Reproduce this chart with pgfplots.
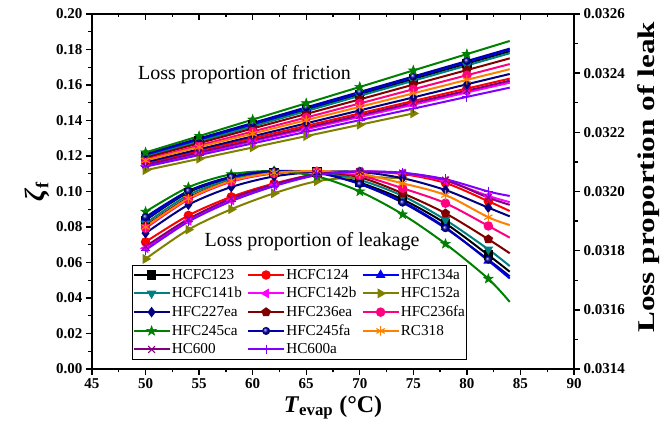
\documentclass[border=0pt]{standalone}
\usepackage{fontspec}
\setmainfont{Liberation Serif}
\usepackage{pgfplots}
\pgfplotsset{compat=1.18}
\usetikzlibrary{plotmarks}
\definecolor{cnavy}{RGB}{0,0,128}
\definecolor{cnavyb}{RGB}{0,0,170}
\definecolor{cteal}{RGB}{0,128,128}
\definecolor{colive}{RGB}{128,128,0}
\definecolor{cdred}{RGB}{128,0,0}
\definecolor{cpink}{RGB}{255,0,128}
\definecolor{cgreen}{RGB}{0,128,0}
\definecolor{corange}{RGB}{255,128,0}
\definecolor{cpurple}{RGB}{128,0,128}
\definecolor{cviolet}{RGB}{128,0,255}
\definecolor{cmag}{RGB}{255,0,255}
\pgfdeclareplotmark{fstar}{%
  \pgfpathmoveto{\pgfpointpolar{90}{1.35\pgfplotmarksize}}%
  \pgfpathlineto{\pgfpointpolar{126}{0.55\pgfplotmarksize}}%
  \pgfpathlineto{\pgfpointpolar{162}{1.35\pgfplotmarksize}}%
  \pgfpathlineto{\pgfpointpolar{198}{0.55\pgfplotmarksize}}%
  \pgfpathlineto{\pgfpointpolar{234}{1.35\pgfplotmarksize}}%
  \pgfpathlineto{\pgfpointpolar{270}{0.55\pgfplotmarksize}}%
  \pgfpathlineto{\pgfpointpolar{306}{1.35\pgfplotmarksize}}%
  \pgfpathlineto{\pgfpointpolar{342}{0.55\pgfplotmarksize}}%
  \pgfpathlineto{\pgfpointpolar{18}{1.35\pgfplotmarksize}}%
  \pgfpathlineto{\pgfpointpolar{54}{0.55\pgfplotmarksize}}%
  \pgfpathclose\pgfusepathqfillstroke}
\pgfplotsset{
  base/.style={line width=2pt, smooth, mark size=3.7pt},
  s1/.style={base, black, mark=square*, mark options={solid, fill=black}},
  s2/.style={base, red, mark=*, mark options={solid, fill=red}},
  s3/.style={base, blue, mark=triangle*, mark options={solid, fill=blue}},
  s4/.style={base, cteal, mark=triangle*, mark options={solid, fill=cteal, rotate=180}},
  s5/.style={base, cmag, mark=triangle*, mark options={solid, fill=cmag, rotate=90}},
  s6/.style={base, colive, mark=triangle*, mark options={solid, fill=colive, rotate=-90}},
  s7/.style={base, cnavy, mark=diamond*, mark options={solid, fill=cnavy}},
  s8/.style={base, cdred, mark=pentagon*, mark options={solid, fill=cdred}},
  s9/.style={base, cpink, mark=*, mark options={solid, fill=cpink}},
  s10/.style={base, cgreen, mark=fstar, mark options={solid, fill=cgreen, line width=0.6pt}},
  s11/.style={base, cnavyb, mark=ball, mark options={solid, ball color=cnavyb, draw=cnavy, line width=0.6pt}},
  s12/.style={base, corange, mark=asterisk, mark size=4.8pt, mark options={solid, line width=1.1pt}},
  s13/.style={base, cpurple, mark=x, mark size=4.8pt, mark options={solid, line width=1.1pt}},
  s14/.style={base, cviolet, mark=+, mark size=4.8pt, mark options={solid, line width=1.1pt}},
  fr/.style={mark indices={1,2,3,4,5,6,7}},
  lk/.style={mark indices={1,2,3,4,5,6,7,8,9}},
}
\begin{document}
\begin{tikzpicture}
\useasboundingbox (-92pt,-74pt) rectangle (574pt,369pt);
\begin{axis}[
  at={(0,0)}, anchor=south west,
  scale only axis, width=482pt, height=355pt,
  xmin=45, xmax=90, ymin=0, ymax=0.2,
  xtick={45,50,55,60,65,70,75,80,85,90},
  ytick={0,0.02,0.04,0.06,0.08,0.10,0.12,0.14,0.16,0.18,0.20},
  yticklabels={0.00,0.02,0.04,0.06,0.08,0.10,0.12,0.14,0.16,0.18,0.20},
  scaled y ticks=false,
  minor x tick num=1, minor y tick num=1,
  xtick pos=bottom, ytick pos=left, tick align=outside,
  major tick length=6pt, minor tick length=3.5pt,
  axis line style={line width=1.4pt}, tick style={line width=1.4pt, black},
  /pgf/number format/assume math mode=true,
  ticklabel style={font=\fontsize{15}{15}\selectfont\bfseries},
  xlabel={\fontsize{24}{24}\selectfont\bfseries\textit{T}\textsubscript{evap} (°C)},
  ylabel={\fontsize{28}{28}\selectfont\bfseries\textit{ζ}\textsubscript{\fontsize{18}{18}\selectfont f}},
  legend style={at={(axis cs:48.7,0.0586)}, anchor=north west, draw=black, line width=0.9pt,
    font=\fontsize{15.2}{16}\selectfont, inner sep=0.5pt, row sep=0pt,
    nodes={inner xsep=1.2pt, inner ysep=3.3pt},
    /tikz/every even column/.append style={column sep=4pt}},
  legend columns=3, legend cell align=left,
  legend image code/.code={\draw[#1,mark=none] (0pt,0pt) -- (36pt,0pt);
     \draw[#1,only marks] plot coordinates {(18pt,0pt)};},
]
% friction
\addplot[s1,fr,forget plot] coordinates {(50,.1200)(55,.1287)(60,.1374)(65,.1460)(70,.1547)(75,.1634)(80,.1721)(84,.1790)};
\addplot[s2,fr,forget plot] coordinates {(50,.1160)(55,.1230)(60,.1300)(65,.1370)(70,.1440)(75,.1510)(80,.1580)(84,.1636)};
\addplot[s3,fr,forget plot] coordinates {(50,.1205)(55,.1293)(60,.1380)(65,.1468)(70,.1555)(75,.1643)(80,.1730)(84,.1800)};
\addplot[s4,fr,forget plot] coordinates {(50,.1195)(55,.1281)(60,.1367)(65,.1453)(70,.1539)(75,.1624)(80,.1710)(84,.1779)};
\addplot[s5,fr,forget plot] coordinates {(50,.1145)(55,.1214)(60,.1283)(65,.1351)(70,.1420)(75,.1489)(80,.1558)(84,.1613)};
\addplot[s6,forget plot] coordinates {(50,.1120)(55,.1184)(60,.1248)(65,.1312)(70,.1376)(75,.1440)};
\addplot[s7,fr,forget plot] coordinates {(50,.1165)(55,.1238)(60,.1311)(65,.1384)(70,.1457)(75,.1530)(80,.1604)(84,.1662)};
\addplot[s8,fr,forget plot] coordinates {(50,.1190)(55,.1272)(60,.1355)(65,.1437)(70,.1519)(75,.1602)(80,.1684)(84,.1750)};
\addplot[s9,fr,forget plot] coordinates {(50,.1180)(55,.1259)(60,.1338)(65,.1417)(70,.1496)(75,.1576)(80,.1655)(84,.1718)};
\addplot[s13,fr,forget plot] coordinates {(50,.1150)(55,.1220)(60,.1289)(65,.1359)(70,.1429)(75,.1499)(80,.1568)(84,.1624)};
\addplot[s14,fr,forget plot] coordinates {(50,.1140)(55,.1205)(60,.1271)(65,.1336)(70,.1402)(75,.1467)(80,.1533)(84,.1585)};
\addplot[s12,fr,forget plot] coordinates {(50,.1175)(55,.1251)(60,.1326)(65,.1402)(70,.1477)(75,.1553)(80,.1629)(84,.1689)};
\addplot[s11,fr,forget plot] coordinates {(50,.1212)(55,.1299)(60,.1386)(65,.1474)(70,.1561)(75,.1648)(80,.1735)(84,.1805)};
\addplot[s10,fr,forget plot] coordinates {(50,.1220)(55,.1312)(60,.1405)(65,.1497)(70,.1589)(75,.1682)(80,.1774)(84,.1848)};
% leakage
\addplot[s1,lk] coordinates {(50,.0838)(54,.0995)(58,.1075)(62,.1108)(66,.1110)(70,.1050)(74,.0955)(78,.0820)(82,.0642)(84,.0548)};
\addlegendentry{HCFC123}
\addplot[s2,lk] coordinates {(50,.0716)(54,.0865)(58,.0970)(62,.1045)(66,.1098)(70,.1112)(74,.1098)(78,.1048)(82,.0945)(84,.0890)};
\addlegendentry{HCFC124}
\addplot[s3,lk] coordinates {(50,.0845)(54,.1000)(58,.1080)(62,.1112)(66,.1108)(70,.1044)(74,.0943)(78,.0798)(82,.0610)(84,.0510)};
\addlegendentry{HFC134a}
\addplot[s4,lk] coordinates {(50,.0820)(54,.0980)(58,.1068)(62,.1105)(66,.1112)(70,.1065)(74,.0975)(78,.0840)(82,.0674)(84,.0580)};
\addlegendentry{HCFC141b}
\addplot[s5,lk] coordinates {(50,.0680)(54,.0835)(58,.0950)(62,.1035)(66,.1095)(70,.1112)(74,.1102)(78,.1060)(82,.0975)(84,.0940)};
\addlegendentry{HCFC142b}
\addplot[s6] coordinates {(50,.0620)(54,.0785)(58,.0900)(62,.0990)(66,.1058)(70,.1080)(74,.1075)};
\addlegendentry{HFC152a}
\addplot[s7,lk] coordinates {(50,.0765)(54,.0925)(58,.1025)(62,.1085)(66,.1110)(70,.1110)(74,.1075)(78,.1008)(82,.0909)(84,.0860)};
\addlegendentry{HFC227ea}
\addplot[s8,lk] coordinates {(50,.0805)(54,.0965)(58,.1060)(62,.1105)(66,.1112)(70,.1080)(74,.0990)(78,.0877)(82,.0731)(84,.0652)};
\addlegendentry{HFC236ea}
\addplot[s9,lk] coordinates {(50,.0793)(54,.0955)(58,.1055)(62,.1102)(66,.1112)(70,.1090)(74,.1018)(78,.0934)(82,.0806)(84,.0740)};
\addlegendentry{HFC236fa}
\addplot[s10,lk] coordinates {(50,.0886)(54,.1024)(58,.1097)(62,.1115)(66,.1085)(70,.1000)(74,.0871)(78,.0705)(82,.0508)(84,.0378)};
\addlegendentry{HFC245ca}
\addplot[s11,lk] coordinates {(50,.0856)(54,.1003)(58,.1083)(62,.1115)(66,.1105)(70,.1042)(74,.0937)(78,.0793)(82,.0616)(84,.0522)};
\addlegendentry{HFC245fa}
\addplot[s12,lk] coordinates {(50,.0800)(54,.0960)(58,.1060)(62,.1105)(66,.1115)(70,.1100)(74,.1046)(78,.0980)(82,.0855)(84,.0811)};
\addlegendentry{RC318}
\addplot[s13,lk] coordinates {(50,.0690)(54,.0845)(58,.0960)(62,.1040)(66,.1098)(70,.1112)(74,.1104)(78,.1064)(82,.0965)(84,.0925)};
\addlegendentry{HC600}
\addplot[s14,lk] coordinates {(50,.0670)(54,.0830)(58,.0945)(62,.1030)(66,.1092)(70,.1112)(74,.1106)(78,.1069)(82,.1000)(84,.0975)};
\addlegendentry{HC600a}
\node[font=\fontsize{20}{20}\selectfont] at (axis cs:59.24,0.1656) {Loss proportion of friction};
\node[font=\fontsize{20}{20}\selectfont] at (axis cs:65.54,0.0717) {Loss proportion of leakage};
\end{axis}
\begin{axis}[
  at={(0,0)}, anchor=south west,
  scale only axis, width=482pt, height=355pt,
  xmin=45, xmax=90, ymin=0.0314, ymax=0.0326,
  xtick={45,50,55,60,65,70,75,80,85,90}, xticklabels={},
  ytick={0.0314,0.0316,0.0318,0.0320,0.0322,0.0324,0.0326},
  yticklabels={0.0314,0.0316,0.0318,0.0320,0.0322,0.0324,0.0326},
  scaled y ticks=false, scaled x ticks=false,
  minor x tick num=1, minor y tick num=1,
  xtick pos=top, ytick pos=right, xtick align=inside, ytick align=outside,
  major tick length=6pt, minor tick length=3.5pt,
  axis line style={line width=1.4pt}, tick style={line width=1.4pt, black},
  ticklabel style={font=\fontsize{15}{15}\selectfont\bfseries},
  /pgf/number format/assume math mode=true,
  ylabel={\fontsize{24}{24}\selectfont\bfseries\scalebox{1.3}[1]{Loss proportion of leak}},
  ylabel style={at={(ticklabel cs:0.54)}},
  ylabel shift=6pt,
]
\addplot[draw=none, forget plot] coordinates {(45,0.0314)};
\end{axis}
\end{tikzpicture}
\end{document}
